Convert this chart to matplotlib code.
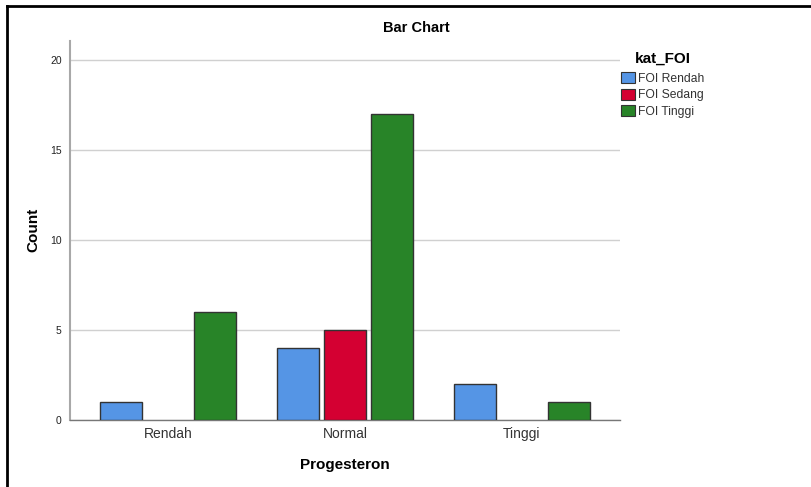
import matplotlib
matplotlib.use("Agg")
import matplotlib.pyplot as plt
import numpy as np
from matplotlib.lines import Line2D
from matplotlib.patches import Patch

plt.rcParams['font.family'] = ['Liberation Sans', 'DejaVu Sans']

categories = ["Rendah", "Normal", "Tinggi"]
series_names = ["FOI Rendah", "FOI Sedang", "FOI Tinggi"]
foi_rendah = [1, 4, 2]
foi_sedang = [0, 5, 0]
foi_tinggi = [6, 17, 1]
colors = ["#5595E5", "#D40032", "#288428"]
yticks = [0, 5, 10, 15, 20]

W, H = 812, 487
fig = plt.figure(figsize=(W / 100, H / 100), dpi=100)
ax = fig.add_axes([70 / W, 1 - 420 / H, 550 / W, 379 / H])

x = np.arange(len(categories))
offset = 0.2655
width = 0.237
all_series = [foi_rendah, foi_sedang, foi_tinggi]
for i, (vals, col) in enumerate(zip(all_series, colors)):
    xs = [xx + (i - 1) * offset for xx, v in zip(x, vals) if v > 0]
    vs = [v for v in vals if v > 0]
    ax.bar(xs, vs, width=width, color=col, edgecolor="#333333", linewidth=1.0, zorder=3)

ax.set_xlim(-0.554, 2.554)
ax.set_ylim(0, 21.06)
ax.set_yticks(yticks)
ax.set_yticklabels([str(t) for t in yticks], fontsize=7.5, color="#222222")
ax.set_xticks(x)
ax.set_xticklabels(categories, fontsize=10, color="#333333")
ax.tick_params(axis="both", length=0)
ax.tick_params(axis="y", pad=6)
ax.tick_params(axis="x", pad=5)
ax.yaxis.grid(True, color="#D0D0D0", linewidth=1.0, zorder=0)
ax.set_axisbelow(True)
for s in ["top", "right"]:
    ax.spines[s].set_visible(False)
ax.spines["left"].set_color("#A8A8A8")
ax.spines["left"].set_linewidth(1.5)
ax.spines["bottom"].set_color("#777777")
ax.spines["bottom"].set_linewidth(1.0)

fig.text(416 / W, 1 - 28 / H, "Bar Chart", ha="center", va="center", fontsize=10.5, fontweight="bold")
fig.text(33 / W, 1 - 230 / H, "Count", ha="center", va="center", rotation=90, fontsize=11, fontweight="bold")
fig.text(345 / W, 1 - 465 / H, "Progesteron", ha="center", va="center", fontsize=11, fontweight="bold")

handles = [Patch(facecolor=c, edgecolor="#333333", linewidth=0.8) for c in colors]
leg = fig.legend(handles, series_names, loc="upper left", bbox_to_anchor=(613 / W, 1 - 43 / H),
                 frameon=False, fontsize=8.7, title="kat_FOI",
                 title_fontproperties={"weight": "bold", "size": 11},
                 handlelength=1.1, handleheight=1.0, handletextpad=0.3, labelspacing=0.33,
                 borderpad=0.2)
leg._legend_box.sep = 5
for t in leg.get_texts():
    t.set_color("#333333")

# outer frame
fig.add_artist(Line2D([7 / W, 1.0], [1 - 6 / H, 1 - 6 / H], color="black", linewidth=2, transform=fig.transFigure))
fig.add_artist(Line2D([7 / W, 7 / W], [1 - 6 / H, 0.0], color="black", linewidth=2, transform=fig.transFigure))

fig.savefig("out.png", dpi=100)
